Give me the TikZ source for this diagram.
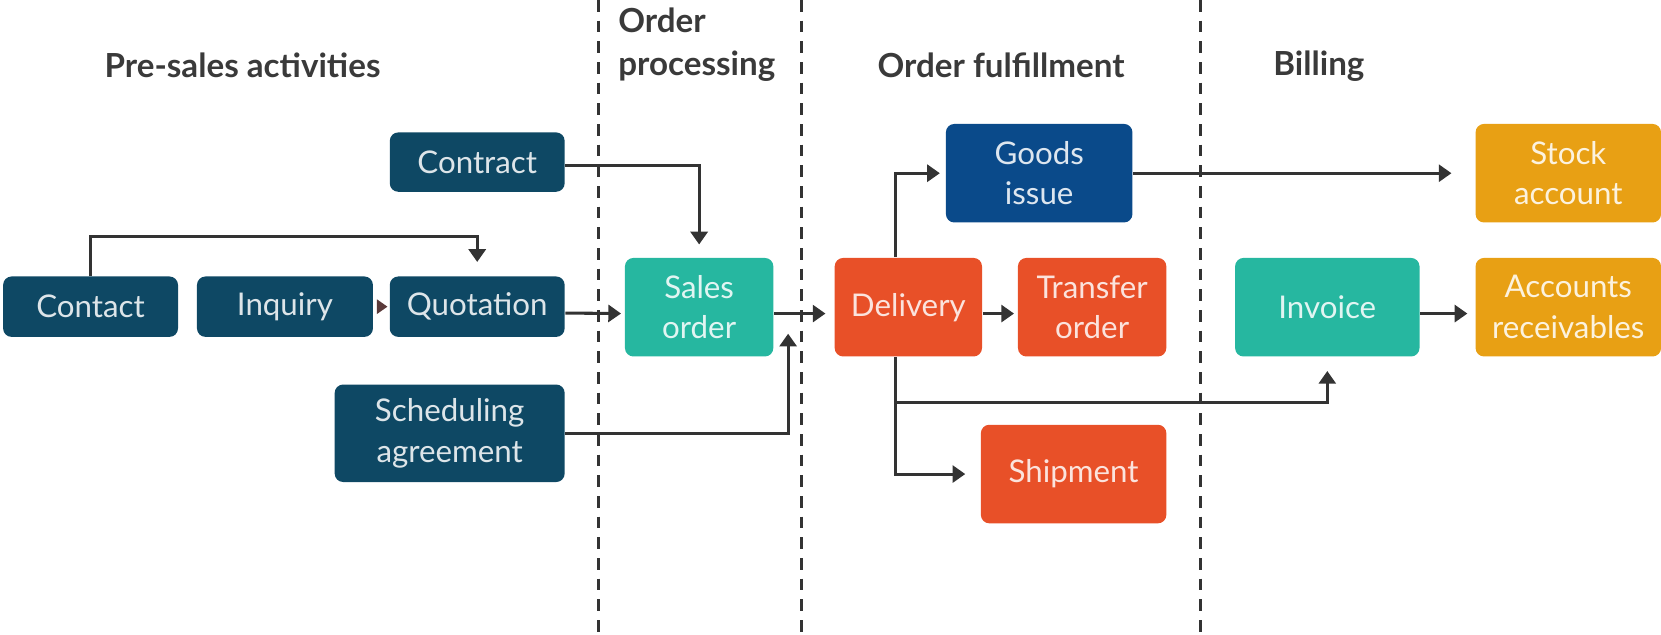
\documentclass[tikz,border=0pt]{standalone}
\usepackage{fontspec}
\setmainfont{Lato}
\usetikzlibrary{arrows.meta,calc}

\definecolor{navy}{HTML}{0E4864}
\definecolor{royal}{HTML}{0A4A8A}
\definecolor{teal}{HTML}{26B7A0}
\definecolor{flame}{HTML}{E85028}
\definecolor{amber}{HTML}{E8A014}
\definecolor{ink}{HTML}{333333}
\definecolor{headink}{HTML}{3A3A3A}
\definecolor{tipbrown}{HTML}{5A3A3A}

\begin{document}
\begin{tikzpicture}[x=0.01cm,y=-0.01cm,
  box/.style={rounded corners=0.08cm, inner sep=0pt, align=center,
    font=\fontsize{8.4}{10.9}\selectfont},
  navybox/.style={box, fill=navy, text=white!86!navy},
  royalbox/.style={box, fill=royal, text=white!86!royal},
  tealbox/.style={box, fill=teal, text=white!86!teal},
  flamebox/.style={box, fill=flame, text=white!84!flame},
  amberbox/.style={box, fill=amber, text=white!86!amber},
  head/.style={font=\bfseries\fontsize{8.9}{11.4}\selectfont, text=headink,
    inner sep=0pt, align=left},
  conn/.style={draw=ink, line width=0.029cm,
    -{Triangle[length=0.12cm,width=0.16cm]}},
  lane/.style={draw=ink, line width=0.028cm, dash pattern=on 0.11cm off 0.085cm}
]
\useasboundingbox (0,0) rectangle (1568,599);

% lane separators
\coordinate (l1t) at (565,0);   \coordinate (l1b) at (565,599);
\coordinate (l2t) at (757,0);   \coordinate (l2b) at (757,599);
\coordinate (l3t) at (1133,0);  \coordinate (l3b) at (1133,599);
\draw[lane] (l1t) -- (l1b);
\draw[lane] (l2t) -- (l2b);
\draw[lane] (l3t) -- (l3b);

% lane titles
\node[head] (hpre) at (229,62) {Pre-sales activities};
\node[head, anchor=west] (hord) at (583,42) {Order\\processing};
\node[head] (hful) at (945,62) {Order fulfillment};
\node[head] (hbil) at (1245,62) {Billing};

% pre-sales
\node[navybox, minimum width=1.65cm, minimum height=0.56cm] (contract) at (450.5,153) {Contract};
\node[navybox, minimum width=1.65cm, minimum height=0.57cm] (contact) at (85.5,289.5) {Contact};
\node[navybox, minimum width=1.66cm, minimum height=0.57cm] (inquiry) at (269,289.5) {Inquiry};
\node[navybox, minimum width=1.65cm, minimum height=0.57cm] (quotation) at (450.5,289.5) {Quotation};
\node[navybox, minimum width=2.17cm, minimum height=0.92cm] (sched) at (424.5,409) {Scheduling\\agreement};

% order processing
\node[tealbox, minimum width=1.40cm, minimum height=0.93cm] (sales) at (660,290) {Sales\\order};

% fulfillment
\node[flamebox, minimum width=1.39cm, minimum height=0.93cm] (delivery) at (857.5,290) {Delivery};
\node[royalbox, minimum width=1.76cm, minimum height=0.93cm] (goods) at (981,163.5) {Goods\\issue};
\node[flamebox, minimum width=1.40cm, minimum height=0.93cm] (transfer) at (1031,290) {Transfer\\order};
\node[flamebox, minimum width=1.75cm, minimum height=0.93cm] (shipment) at (1013.5,447.5) {Shipment};

% billing
\node[tealbox, minimum width=1.74cm, minimum height=0.93cm] (invoice) at (1253,290) {Invoice};
\node[amberbox, minimum width=1.75cm, minimum height=0.93cm] (stock) at (1480.5,163.5) {Stock\\account};
\node[amberbox, minimum width=1.75cm, minimum height=0.93cm] (ar) at (1480.5,290) {Accounts\\receivables};

% routing points
\coordinate (cq) at (450.5,223);
\coordinate (schedtip) at (744,315);
\coordinate (dx) at (845,0);
\coordinate (split) at (845,380);

% connectors
\draw[conn, shorten >=0.13cm] (contact.north) |- (cq) -- (quotation.north);
\draw[draw=none, fill=tipbrown] ($(inquiry.east)+(3,-7)$) -- ($(inquiry.east)+(13,0)$) -- ($(inquiry.east)+(3,7)$) -- cycle;
\draw[conn, shorten >=0.03cm] ([yshift=-0.06cm]quotation.east) -- ([yshift=-0.06cm]sales.west);
\draw[conn, shorten >=0.12cm] ([yshift=-0.03cm]contract.east) -| (sales.north);
\draw[conn] (sched.east) -| (schedtip);
\draw[conn, shorten >=0.08cm] ([yshift=-0.06cm]sales.east) -- ([yshift=-0.06cm]delivery.west);
\draw[conn, shorten >=0.05cm] (delivery.north -| dx) |- (goods.west);
\draw[conn, shorten >=0.03cm] ([yshift=-0.06cm]delivery.east) -- ([yshift=-0.06cm]transfer.west);
\draw[conn, shorten >=0.14cm] (delivery.south -| dx) |- (shipment.west);
\draw[conn, shorten >=0.13cm] (split) -| (invoice.south);
\draw[conn, shorten >=0.22cm] (goods.east) -- (stock.west);
\draw[conn, shorten >=0.07cm] ([yshift=-0.06cm]invoice.east) -- ([yshift=-0.06cm]ar.west);
\end{tikzpicture}
\end{document}
